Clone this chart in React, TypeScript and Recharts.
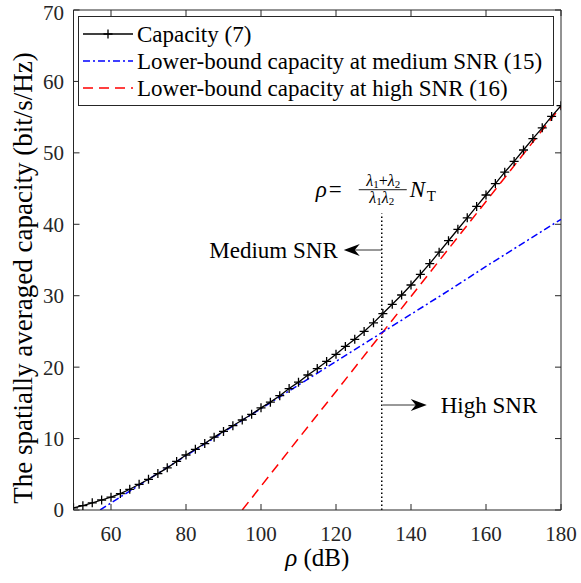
import React from 'react';
import { ComposedChart, Line, XAxis, YAxis, Legend, ReferenceLine, ReferenceDot } from 'recharts';

// rho in dB, capacity (7) sampled every 2.5 dB
const rhoDb = [
  50, 52.5, 55, 57.5, 60, 62.5, 65, 67.5, 70, 72.5, 75, 77.5, 80, 82.5, 85, 87.5, 90, 92.5,
  95, 97.5, 100, 102.5, 105, 107.5, 110, 112.5, 115, 117.5, 120, 122.5, 125, 127.5, 130,
  132.5, 135, 137.5, 140, 142.5, 145, 147.5, 150, 152.5, 155, 157.5, 160, 162.5, 165, 167.5,
  170, 172.5, 175, 177.5, 180,
];
const capacity = [
  0.3, 0.6, 1.0, 1.4, 1.8, 2.3, 2.9, 3.6, 4.3, 5.1, 5.9, 6.8, 7.7, 8.5, 9.3, 10.2, 11.0, 11.8,
  12.6, 13.4, 14.3, 15.1, 16.0, 17.0, 17.9, 18.9, 19.8, 20.8, 21.8, 22.9, 23.9, 25.0, 26.2,
  27.5, 28.8, 30.1, 31.5, 33.0, 34.5, 36.1, 37.7, 39.3, 40.9, 42.5, 44.1, 45.7, 47.3, 48.8,
  50.4, 52.0, 53.5, 55.1, 56.6,
];

// lower bound at medium SNR (15)
const mediumRho = [57.1, 60, 70, 80, 90, 100, 110, 120, 130, 140, 150, 160, 170, 180];
const mediumCap = [0, 1.0, 4.3, 7.6, 10.9, 14.2, 17.5, 20.8, 24.1, 27.4, 30.7, 34.1, 37.4, 40.7];

// lower bound at high SNR (16)
const highRho = [95, 110, 120, 140, 160, 180];
const highCap = [0, 10.0, 16.6, 29.9, 43.2, 56.5];

const xTicks = [60, 80, 100, 120, 140, 160, 180];
const yTicks = [0, 10, 20, 30, 40, 50, 60, 70];
const rhoThreshold = 132.2;

const X_MIN = 50;
const X_MAX = 180;
const Y_MIN = 0;
const Y_MAX = 70;
// inward tick length expressed in data units (~6px)
const X_TICK_LEN = 1.6;
const Y_TICK_LEN = 0.84;

const FONT = '"Liberation Serif", "Times New Roman", serif';
const AXIS = '#262626';

const capData = rhoDb.map((x, i) => ({ x, y: capacity[i] }));
const mediumData = mediumRho.map((x, i) => ({ x, y: mediumCap[i] }));
const highData = highRho.map((x, i) => ({ x, y: highCap[i] }));

const series = [
  { name: 'Capacity (7)', color: '#000000', dash: undefined as string | undefined, marker: true },
  { name: 'Lower-bound capacity at medium SNR (15)', color: '#0000ff', dash: '7 3 2 3', marker: false },
  { name: 'Lower-bound capacity at high SNR (16)', color: '#ff0000', dash: '10 6', marker: false },
];

function Plus({ cx, cy }: { cx?: number; cy?: number }) {
  if (cx == null || cy == null) return null;
  return (
    <path
      d={`M${cx - 4.5},${cy}h9M${cx},${cy - 4.5}v9`}
      stroke="#000"
      strokeWidth={1.3}
      fill="none"
    />
  );
}

function LegendBox() {
  const rowY = [18, 45, 72];
  return (
    <svg width={476} height={90} style={{ display: 'block' }}>
      <rect x={0.5} y={0.5} width={475} height={89} fill="#fff" stroke={AXIS} strokeWidth={1} />
      {series.map((s, i) => (
        <g key={s.name}>
          <line
            x1={5}
            x2={55}
            y1={rowY[i]}
            y2={rowY[i]}
            stroke={s.color}
            strokeWidth={1.5}
            strokeDasharray={s.dash}
          />
          {s.marker && <Plus cx={30} cy={rowY[i]} />}
          <text x={59} y={rowY[i] + 8} style={{ fontFamily: FONT }} fontSize={23} fill="#000">
            {s.name}
          </text>
        </g>
      ))}
    </svg>
  );
}

function Formula({ cx, cy }: { cx?: number; cy?: number }) {
  if (cx == null || cy == null) return null;
  return (
    <g style={{ fontFamily: FONT }} fill="#000">
      <text x={cx - 66} y={cy + 1} fontSize={23} fontStyle="italic">ρ</text>
      <text x={cx - 53} y={cy + 1} fontSize={23}>=</text>
      <text x={cx + 1.5} y={cy - 10} fontSize={16} textAnchor="middle">
        <tspan fontStyle="italic">λ</tspan>
        <tspan fontSize={11} dy={2}>1</tspan>
        <tspan dy={-2}>+</tspan>
        <tspan fontStyle="italic">λ</tspan>
        <tspan fontSize={11} dy={2}>2</tspan>
      </text>
      <line x1={cx - 23} x2={cx + 25} y1={cy - 6} y2={cy - 6} stroke="#000" strokeWidth={0.9} />
      <text x={cx} y={cy + 7} fontSize={16} textAnchor="middle">
        <tspan fontStyle="italic">λ</tspan>
        <tspan fontSize={11} dy={2}>1</tspan>
        <tspan fontStyle="italic" dy={-2}>λ</tspan>
        <tspan fontSize={11} dy={2}>2</tspan>
      </text>
      <text x={cx + 28} y={cy + 1} fontSize={23} fontStyle="italic">N</text>
      <text x={cx + 45} y={cy + 5} fontSize={15}>T</text>
    </g>
  );
}

function MediumArrow({ cx, cy }: { cx?: number; cy?: number }) {
  if (cx == null || cy == null) return null;
  const tip = cx - 38;
  return (
    <g>
      <line x1={cx} x2={tip + 8} y1={cy} y2={cy} stroke="#333" strokeWidth={1} />
      <path d={`M${tip},${cy}L${tip + 16},${cy - 6}L${tip + 11},${cy}L${tip + 16},${cy + 6}Z`} fill="#000" />
      <text x={cx - 44} y={cy + 8} style={{ fontFamily: FONT }} fontSize={23} textAnchor="end" fill="#000">
        Medium SNR
      </text>
    </g>
  );
}

function HighArrow({ cx, cy }: { cx?: number; cy?: number }) {
  if (cx == null || cy == null) return null;
  const tip = cx + 45;
  return (
    <g>
      <line x1={cx + 1} x2={tip - 8} y1={cy} y2={cy} stroke="#333" strokeWidth={1} />
      <path d={`M${tip},${cy}L${tip - 16},${cy - 6}L${tip - 11},${cy}L${tip - 16},${cy + 6}Z`} fill="#000" />
      <text x={cx + 59} y={cy + 8} style={{ fontFamily: FONT }} fontSize={23} fill="#000">
        High SNR
      </text>
    </g>
  );
}

function YLabel(props: any) {
  const vb = props.viewBox || {};
  const x = vb.x + 32;
  const y = vb.y + vb.height / 2 + 18;
  return (
    <text
      x={x}
      y={y}
      transform={`rotate(-90 ${x} ${y})`}
      textAnchor="middle"
      style={{ fontFamily: FONT }}
      fontSize={27}
      fill="#000"
    >
      The spatially averaged capacity (bit/s/Hz)
    </text>
  );
}

function XLabel(props: any) {
  const vb = props.viewBox || {};
  return (
    <text
      x={vb.x + vb.width / 2}
      y={vb.y + 56}
      textAnchor="middle"
      style={{ fontFamily: FONT }}
      fontSize={25}
      fill="#000"
    >
      <tspan fontStyle="italic">ρ</tspan> (dB)
    </text>
  );
}

const tickStyle = { fontFamily: FONT, fontSize: 21, fill: AXIS };

export default function App() {
  return (
    <div style={{ position: 'absolute', left: 0, top: 0, background: '#fff' }}>
      <ComposedChart width={581} height={583} margin={{ top: 10, right: 20, bottom: 33, left: 0 }}>
        <XAxis
          dataKey="x"
          type="number"
          domain={[X_MIN, X_MAX]}
          ticks={xTicks}
          allowDataOverflow
          height={40}
          stroke={AXIS}
          tickLine={false}
          tickSize={-6}
          tickMargin={22}
          tick={tickStyle}
          label={<XLabel />}
        />
        <YAxis
          type="number"
          domain={[Y_MIN, Y_MAX]}
          ticks={yTicks}
          allowDataOverflow
          width={73.5}
          stroke={AXIS}
          tickLine={false}
          tickSize={-6}
          tickMargin={15.5}
          tick={tickStyle}
          label={<YLabel />}
        />
        <Legend
          layout="vertical"
          align="center"
          verticalAlign="middle"
          content={() => <LegendBox />}
          wrapperStyle={{ position: 'absolute', left: 78, top: 16, width: 476, height: 90, margin: 0, padding: 0 }}
        />

        {/* box outline: top and right edges */}
        <ReferenceLine y={Y_MAX} stroke={AXIS} strokeWidth={1} />
        <ReferenceLine x={X_MAX} stroke={AXIS} strokeWidth={1} />

        {/* inward ticks on all four sides */}
        {xTicks.map((t) => (
          <ReferenceLine key={`bt${t}`} segment={[{ x: t, y: Y_MIN }, { x: t, y: Y_MIN + Y_TICK_LEN }]} stroke={AXIS} />
        ))}
        {xTicks.map((t) => (
          <ReferenceLine key={`tt${t}`} segment={[{ x: t, y: Y_MAX }, { x: t, y: Y_MAX - Y_TICK_LEN }]} stroke={AXIS} />
        ))}
        {yTicks.map((t) => (
          <ReferenceLine key={`lt${t}`} segment={[{ x: X_MIN, y: t }, { x: X_MIN + X_TICK_LEN, y: t }]} stroke={AXIS} />
        ))}
        {yTicks.map((t) => (
          <ReferenceLine key={`rt${t}`} segment={[{ x: X_MAX, y: t }, { x: X_MAX - X_TICK_LEN, y: t }]} stroke={AXIS} />
        ))}

        <ReferenceLine
          segment={[{ x: rhoThreshold, y: 0 }, { x: rhoThreshold, y: 41.5 }]}
          stroke="#000"
          strokeWidth={1.5}
          strokeDasharray="1.5 2.5"
        />
        <Line
          data={highData}
          dataKey="y"
          name={series[2].name}
          type="linear"
          stroke={series[2].color}
          strokeWidth={1.5}
          strokeDasharray={series[2].dash}
          dot={false}
          isAnimationActive={false}
        />
        <Line
          data={mediumData}
          dataKey="y"
          name={series[1].name}
          type="linear"
          stroke={series[1].color}
          strokeWidth={1.5}
          strokeDasharray={series[1].dash}
          dot={false}
          isAnimationActive={false}
        />
        <Line
          data={capData}
          dataKey="y"
          name={series[0].name}
          type="linear"
          stroke={series[0].color}
          strokeWidth={1.3}
          dot={(p: any) => <Plus key={`c${p.index}`} cx={p.cx} cy={p.cy} />}
          isAnimationActive={false}
        />
        <ReferenceDot x={rhoThreshold} y={44} r={0} shape={(p: any) => <Formula cx={p.cx} cy={p.cy} />} />
        <ReferenceDot x={rhoThreshold} y={36.4} r={0} shape={(p: any) => <MediumArrow cx={p.cx} cy={p.cy} />} />
        <ReferenceDot x={rhoThreshold} y={14.7} r={0} shape={(p: any) => <HighArrow cx={p.cx} cy={p.cy} />} />
      </ComposedChart>
    </div>
  );
}
